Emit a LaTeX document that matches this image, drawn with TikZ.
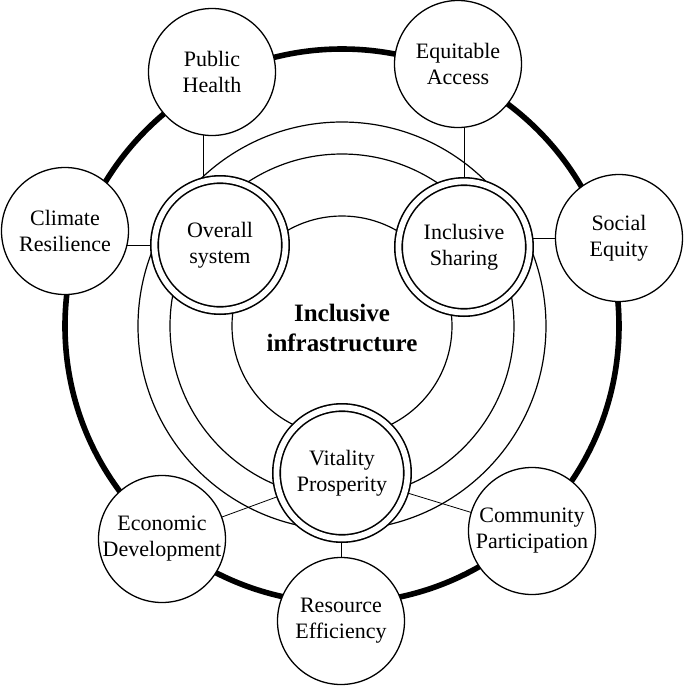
\documentclass[tikz,border=0pt]{standalone}
\usepackage{fontspec}
\setmainfont{Liberation Serif}
\usetikzlibrary{backgrounds}

\begin{document}
\begin{tikzpicture}[x=0.5pt, y=0.5pt, font=\fontsize{11}{13}\selectfont,
    pillar/.style={circle, draw, line width=0.8pt, double, double distance=2.9pt, fill=white, minimum size=65.5pt, inner sep=0pt, align=center},
    goal/.style={circle, draw, line width=0.65pt, fill=white, minimum size=63.5pt, inner sep=0pt, align=center},
    link/.style={line width=0.6pt}]
    \useasboundingbox (-342,-367) rectangle (343,326);

    \draw[line width=2.8pt] (0,0) circle[radius=277];
    \draw[link] (0,0) circle[radius=204];
    \draw[link] (0,0) circle[radius=172];
    \draw[link] (0,0) circle[radius=110];

    \node[font=\fontsize{12.5}{15.3}\selectfont\bfseries, align=center] (incl) at (0,-2) {Inclusive\\infrastructure};

    \node[pillar] (ov) at (-122,81) {Overall\\system};
    \node[pillar] (is) at (122,79) {Inclusive\\Sharing};
    \node[pillar] (vp) at (0,-147) {Vitality\\Prosperity};

    \node[goal] (ph) at (-130,254) {Public\\Health};
    \node[goal] (ea) at (116,262) {Equitable\\Access};
    \node[goal] (se) at (277,88) {Social\\Equity};
    \node[goal] (cr) at (-277,95) {Climate\\Resilience};
    \node[goal] (ed) at (-180,-213) {Economic\\Development};
    \node[goal] (re) at (-1,-295) {Resource\\Efficiency};
    \node[goal] (cp) at (190,-205) {Community\\Participation};

    \begin{scope}[on background layer, link]
        \draw ([xshift=-8.5pt]ov.center) -- ([xshift=-8.5pt]ov.center |- ph.center);
        \draw (ov.center) -- (ov.center -| cr.center);
        \draw (is.center) -- (is.center |- ea.center);
        \draw (se.center) -- (se.center -| is.center);
        \draw (vp.center) -- (re.center);
        \draw (vp.center) -- (ed.center);
        \draw (vp.center) -- (cp.center);
    \end{scope}
\end{tikzpicture}
\end{document}
